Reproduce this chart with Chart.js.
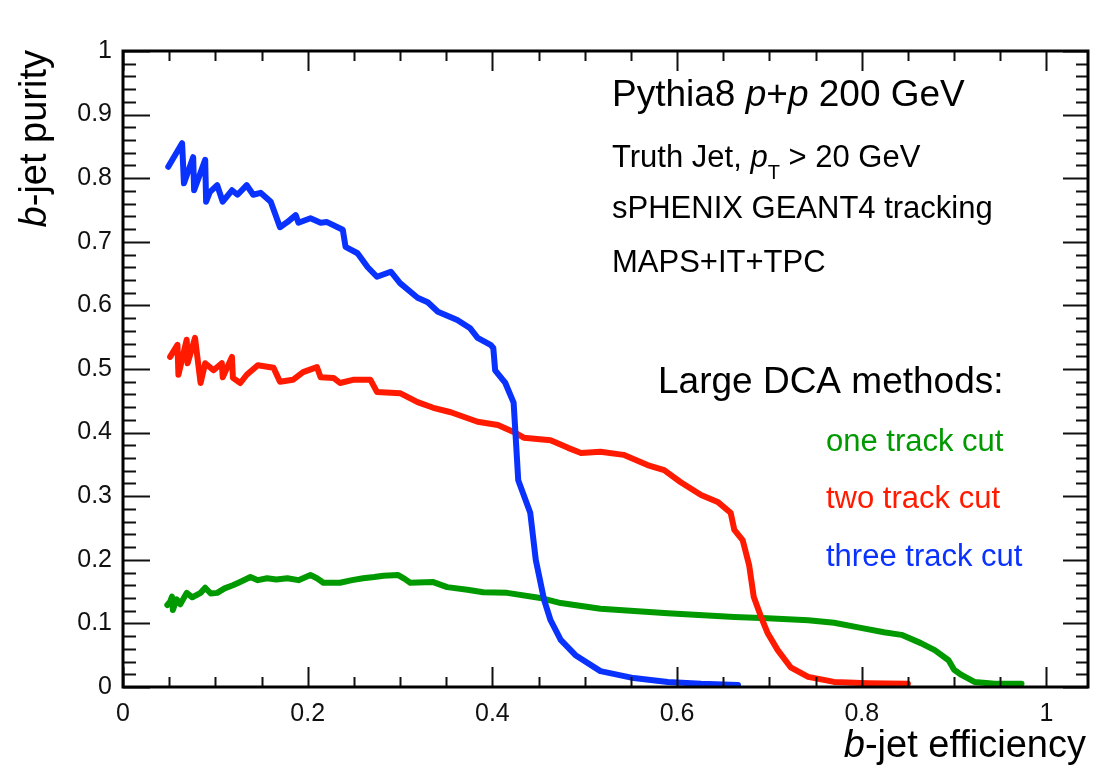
<!DOCTYPE html>
<html>
<head>
<meta charset="utf-8">
<script src="https://cdn.jsdelivr.net/npm/chart.js@4"></script>
<style>
  body { margin: 0; background: #fff; }
  #wrap { width: 1094px; height: 768px; }
</style>
</head>
<body>
<div id="wrap"><canvas id="effChart" width="1094" height="768"></canvas></div>
<script>
// b-jet efficiency (x) vs purity (y)
const oneTrackEff = [0.048, 0.051, 0.053, 0.054, 0.058, 0.062, 0.069, 0.075, 0.084, 0.089, 0.095, 0.102, 0.110, 0.119, 0.128, 0.138, 0.146, 0.156, 0.166, 0.178, 0.190, 0.203, 0.210, 0.217, 0.235, 0.248, 0.260, 0.272, 0.282, 0.298, 0.305, 0.311, 0.336, 0.351, 0.373, 0.390, 0.416, 0.452, 0.474, 0.517, 0.590, 0.662, 0.698, 0.742, 0.770, 0.799, 0.824, 0.843, 0.864, 0.879, 0.894, 0.900, 0.908, 0.922, 0.944, 0.973];
const oneTrackPur = [0.129, 0.134, 0.142, 0.121, 0.138, 0.130, 0.148, 0.141, 0.148, 0.156, 0.147, 0.148, 0.155, 0.160, 0.166, 0.173, 0.168, 0.171, 0.169, 0.171, 0.168, 0.176, 0.171, 0.164, 0.164, 0.168, 0.171, 0.173, 0.175, 0.176, 0.170, 0.164, 0.165, 0.157, 0.153, 0.149, 0.148, 0.140, 0.132, 0.123, 0.116, 0.110, 0.108, 0.105, 0.101, 0.093, 0.086, 0.082, 0.069, 0.058, 0.042, 0.027, 0.019, 0.008, 0.005, 0.005];

const twoTrackEff = [0.051, 0.059, 0.060, 0.069, 0.070, 0.078, 0.084, 0.089, 0.098, 0.107, 0.108, 0.118, 0.119, 0.127, 0.134, 0.146, 0.163, 0.170, 0.184, 0.195, 0.210, 0.214, 0.228, 0.235, 0.249, 0.268, 0.275, 0.300, 0.319, 0.336, 0.355, 0.384, 0.406, 0.423, 0.434, 0.463, 0.482, 0.496, 0.517, 0.542, 0.568, 0.586, 0.604, 0.626, 0.644, 0.658, 0.662, 0.671, 0.678, 0.683, 0.691, 0.698, 0.709, 0.723, 0.742, 0.770, 0.807, 0.850];
const twoTrackPur = [0.519, 0.538, 0.491, 0.546, 0.509, 0.549, 0.478, 0.509, 0.498, 0.509, 0.487, 0.519, 0.486, 0.478, 0.491, 0.506, 0.502, 0.480, 0.483, 0.495, 0.503, 0.487, 0.486, 0.478, 0.483, 0.483, 0.464, 0.462, 0.448, 0.439, 0.432, 0.417, 0.412, 0.401, 0.392, 0.388, 0.376, 0.368, 0.370, 0.365, 0.349, 0.341, 0.322, 0.302, 0.291, 0.274, 0.247, 0.231, 0.192, 0.142, 0.110, 0.085, 0.058, 0.031, 0.016, 0.008, 0.006, 0.005];

const threeTrackEff = [0.049, 0.064, 0.066, 0.076, 0.077, 0.089, 0.090, 0.094, 0.102, 0.108, 0.118, 0.124, 0.134, 0.141, 0.149, 0.160, 0.170, 0.178, 0.187, 0.190, 0.203, 0.214, 0.221, 0.238, 0.241, 0.254, 0.265, 0.275, 0.290, 0.300, 0.319, 0.330, 0.341, 0.362, 0.376, 0.384, 0.398, 0.401, 0.403, 0.414, 0.423, 0.425, 0.428, 0.441, 0.447, 0.456, 0.463, 0.474, 0.490, 0.517, 0.553, 0.590, 0.626, 0.666];
const threeTrackPur = [0.818, 0.855, 0.792, 0.833, 0.781, 0.829, 0.763, 0.778, 0.789, 0.763, 0.781, 0.774, 0.789, 0.774, 0.777, 0.763, 0.723, 0.731, 0.742, 0.730, 0.737, 0.730, 0.731, 0.719, 0.692, 0.682, 0.660, 0.645, 0.653, 0.635, 0.612, 0.605, 0.590, 0.577, 0.564, 0.549, 0.538, 0.533, 0.498, 0.478, 0.447, 0.399, 0.325, 0.274, 0.200, 0.137, 0.105, 0.074, 0.050, 0.025, 0.014, 0.008, 0.005, 0.003];

const seriesNames = ['one track cut', 'two track cut', 'three track cut'];
const seriesColors = ['#009a00', '#ff1a00', '#0a32ff'];
const seriesOrder = [3, 2, 1]; // blue drawn on top, green at the bottom

const FONT = '"Liberation Sans", Arial, Helvetica, sans-serif';

function toPoints(xs, ys) {
  return xs.map((x, i) => ({ x: x, y: ys[i] }));
}

// draw a run of text pieces with their own fonts, one after the other
function drawRuns(ctx, x, y, runs, color) {
  ctx.fillStyle = color;
  ctx.textBaseline = 'alphabetic';
  ctx.textAlign = 'left';
  runs.forEach(r => {
    ctx.font = r.font;
    ctx.fillText(r.text, x, y + (r.dy || 0));
    x += ctx.measureText(r.text).width;
  });
}

function runsWidth(ctx, runs) {
  let w = 0;
  runs.forEach(r => { ctx.font = r.font; w += ctx.measureText(r.text).width; });
  return w;
}

const rootFrame = {
  id: 'rootFrame',
  afterDatasetsDraw(chart) {
    const ctx = chart.ctx;
    const a = chart.chartArea;
    const xs = chart.scales.x, ys = chart.scales.y;
    ctx.save();
    ctx.strokeStyle = '#111';
    ctx.lineWidth = 2;
    // x ticks, bottom and top
    for (let i = 0; i <= 20; i++) {
      const v = i * 0.05;
      const px = Math.round(xs.getPixelForValue(v)) + 0.5;
      const len = i % 4 === 0 ? 20 : 10;
      ctx.beginPath();
      ctx.moveTo(px, a.bottom); ctx.lineTo(px, a.bottom - len);
      ctx.moveTo(px, a.top); ctx.lineTo(px, a.top + len);
      ctx.stroke();
    }
    // y ticks, left and right
    for (let i = 0; i <= 50; i++) {
      const v = i * 0.02;
      const py = Math.round(ys.getPixelForValue(v)) + 0.5;
      const major = i % 5 === 0;
      ctx.beginPath();
      ctx.moveTo(a.left, py); ctx.lineTo(a.left + (major ? 27 : 13), py);
      ctx.moveTo(a.right, py); ctx.lineTo(a.right - (major ? 25 : 12), py);
      ctx.stroke();
    }
    ctx.strokeStyle = '#000';
    ctx.lineWidth = 3;
    ctx.strokeRect(a.left, a.top, a.right - a.left, a.bottom - a.top);
    ctx.restore();
  },
  afterDraw(chart) {
    const ctx = chart.ctx;
    ctx.save();
    const big = '37px ' + FONT, bigI = 'italic 37px ' + FONT;
    const ttl = '38px ' + FONT, ttlI = 'italic 38px ' + FONT;
    const mid = '31px ' + FONT, midI = 'italic 31px ' + FONT;

    // axis titles
    const xRuns = [{ text: 'b', font: ttlI }, { text: '-jet efficiency', font: ttl }];
    drawRuns(ctx, 1086 - runsWidth(ctx, xRuns), 757, xRuns, '#000');

    const yRuns = [{ text: 'b', font: ttlI }, { text: '-jet purity', font: ttl }];
    ctx.save();
    ctx.translate(46, 50);
    ctx.rotate(-Math.PI / 2);
    drawRuns(ctx, -runsWidth(ctx, yRuns), 0, yRuns, '#000');
    ctx.restore();

    // annotations
    drawRuns(ctx, 612, 106, [
      { text: 'Pythia8 ', font: big }, { text: 'p', font: bigI }, { text: '+', font: big },
      { text: 'p', font: bigI }, { text: ' 200 GeV', font: big }
    ], '#000');
    drawRuns(ctx, 612, 167, [
      { text: 'Truth Jet, ', font: mid }, { text: 'p', font: midI },
      { text: 'T', font: '20px ' + FONT, dy: 12 }, { text: ' > 20 GeV', font: mid }
    ], '#000');
    drawRuns(ctx, 612, 218, [{ text: 'sPHENIX GEANT4 tracking', font: mid }], '#000');
    drawRuns(ctx, 612, 272, [{ text: 'MAPS+IT+TPC', font: mid }], '#000');
    drawRuns(ctx, 658, 393, [{ text: 'Large DCA methods:', font: big }], '#000');
    const labelY = [451, 508, 566];
    seriesNames.forEach((n, i) => {
      drawRuns(ctx, 826, labelY[i], [{ text: n, font: mid }], seriesColors[i]);
    });
    ctx.restore();
  }
};

const tickFmt = v => {
  if (Math.abs(v) < 1e-9) return '0';
  return String(Math.round(v * 10) / 10);
};

new Chart(document.getElementById('effChart'), {
  type: 'scatter',
  data: {
    datasets: [
      { label: seriesNames[0], data: toPoints(oneTrackEff, oneTrackPur) },
      { label: seriesNames[1], data: toPoints(twoTrackEff, twoTrackPur) },
      { label: seriesNames[2], data: toPoints(threeTrackEff, threeTrackPur) }
    ].map((d, i) => Object.assign(d, {
      borderColor: seriesColors[i], order: seriesOrder[i],
      showLine: true, pointRadius: 0, borderWidth: 6, tension: 0,
      borderJoinStyle: 'round', borderCapStyle: 'round', fill: false
    }))
  },
  options: {
    responsive: false,
    animation: false,
    layout: { padding: { left: 0, right: 6, top: 51, bottom: 0 } },
    plugins: { legend: { display: false }, tooltip: { enabled: false } },
    scales: {
      x: {
        type: 'linear', min: 0, max: 1.045,
        grid: { display: false },
        border: { display: false },
        ticks: {
          stepSize: 0.2, includeBounds: false, maxRotation: 0, padding: 4,
          color: '#111', font: { family: FONT, size: 25 }, callback: tickFmt
        },
        afterFit: s => { s.height = 81; }
      },
      y: {
        type: 'linear', min: 0, max: 1,
        grid: { display: false },
        border: { display: false },
        ticks: {
          stepSize: 0.1, padding: 3,
          color: '#111', font: { family: FONT, size: 25 }, callback: tickFmt
        },
        afterFit: s => { s.width = 123; }
      }
    }
  },
  plugins: [rootFrame]
});
</script>
</body>
</html>
